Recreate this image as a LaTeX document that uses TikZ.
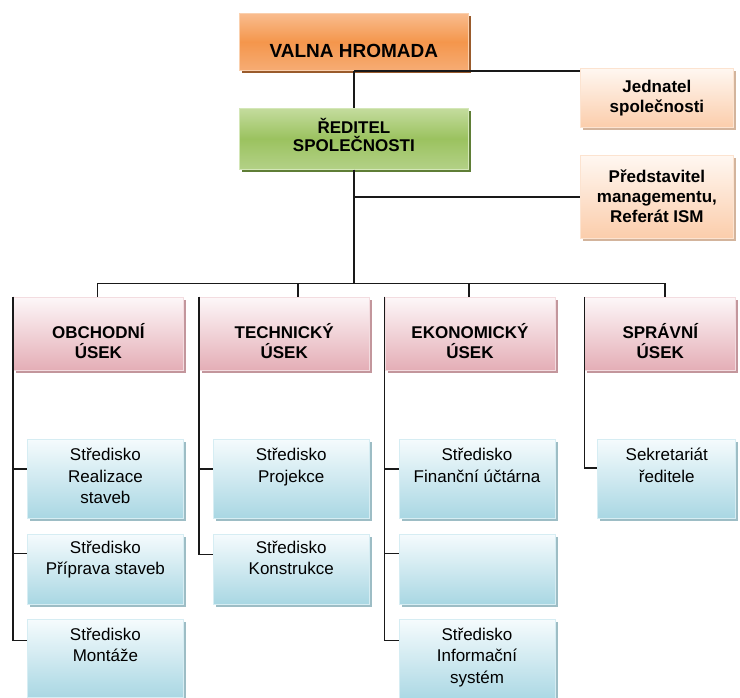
\documentclass[tikz,border=0pt]{standalone}
\usepackage{fontspec}
\setmainfont{Liberation Sans}
\usetikzlibrary{positioning, shadows}

\definecolor{orangeTop}{HTML}{F9BC8E}
\definecolor{orangeMid}{HTML}{F4964C}
\definecolor{orangeBot}{HTML}{F6AC74}
\definecolor{orangeLine}{HTML}{FAD0AE}
\definecolor{orangeShadow}{HTML}{9A5B2C}
\definecolor{greenTop}{HTML}{C4DC9E}
\definecolor{greenMid}{HTML}{9BC25F}
\definecolor{greenBot}{HTML}{B3D187}
\definecolor{greenLine}{HTML}{D4E7B8}
\definecolor{greenShadow}{HTML}{5F7E36}
\definecolor{peachTop}{HTML}{FFF7F1}
\definecolor{peachBot}{HTML}{FBCDAB}
\definecolor{peachLine}{HTML}{FCE3D0}
\definecolor{peachShadow}{HTML}{D3B49C}
\definecolor{pinkTop}{HTML}{FDF7F8}
\definecolor{pinkBot}{HTML}{E4AEB6}
\definecolor{pinkLine}{HTML}{F3DCE0}
\definecolor{pinkShadow}{HTML}{C3969C}
\definecolor{blueTop}{HTML}{F5FBFD}
\definecolor{blueBot}{HTML}{A9D7E3}
\definecolor{blueLine}{HTML}{D6EDF3}
\definecolor{blueShadow}{HTML}{9DBDC5}

\tikzstyle{Line} = [line width=1.5pt, black!90]

% text block: height, width, top gap, text
\newcommand{\intext}[4]{\parbox[c][#1pt][t]{#2pt}{\centering\vspace*{#3pt}#4}}

\begin{document}
\begin{tikzpicture}[x=1pt, y=-1pt,
box/.style={
    inner sep=0pt,
    line width=0.8pt
    },
topbox/.style={
    box,
    draw=orangeLine,
    top color=orangeTop, bottom color=orangeBot, middle color=orangeMid,
    drop shadow={shadow xshift=2.5pt, shadow yshift=-2.5pt, fill=orangeShadow, opacity=1},
    font=\bfseries\fontsize{19}{20}\selectfont
    },
headbox/.style={
    box,
    draw=greenLine,
    top color=greenTop, bottom color=greenBot, middle color=greenMid,
    drop shadow={shadow xshift=2.5pt, shadow yshift=-2.5pt, fill=greenShadow, opacity=1},
    font=\bfseries\fontsize{17}{18.5}\selectfont
    },
staffbox/.style={
    box,
    draw=peachLine,
    top color=peachTop, bottom color=peachBot,
    drop shadow={shadow xshift=2.5pt, shadow yshift=-2.5pt, fill=peachShadow, opacity=1},
    font=\bfseries\fontsize{17}{20}\selectfont
    },
unitbox/.style={
    box,
    draw=pinkLine,
    top color=pinkTop, bottom color=pinkBot,
    drop shadow={shadow xshift=2.5pt, shadow yshift=-2.5pt, fill=pinkShadow, opacity=1},
    font=\bfseries\fontsize{17}{20}\selectfont
    },
centrebox/.style={
    box,
    draw=blueLine,
    top color=blueTop, bottom color=blueBot,
    drop shadow={shadow xshift=2.5pt, shadow yshift=-2.5pt, fill=blueShadow, opacity=1},
    font=\fontsize{17}{21.5}\selectfont
    }
]
\useasboundingbox (0,0) rectangle (740,698);

% top of the company
\node [topbox, anchor=north west] (vh) at (239,13) {\intext{57}{229}{31}{VALNA HROMADA}};
\node [headbox, below=37pt of vh] (red) {\intext{61}{229}{10}{ŘEDITEL\\SPOLEČNOSTI}};
\node [staffbox, anchor=north west] (jed) at (580,68) {\intext{59}{153}{11.5}{Jednatel\\společnosti}};
\node [staffbox, anchor=north west] (pred) at (580,155) {\intext{83}{153}{14.5}{Představitel\\managementu,\\Referát ISM}};

% units
\node [unitbox, anchor=north west] (u1) at (13,297) {\intext{73}{170}{26}{OBCHODNÍ\\ÚSEK}};
\node [unitbox, right=15pt of u1] (u2) {\intext{73}{170}{26}{TECHNICKÝ\\ÚSEK}};
\node [unitbox, right=15pt of u2] (u3) {\intext{73}{170}{26}{EKONOMICKÝ\\ÚSEK}};
\node [unitbox, right=29pt of u3] (u4) {\intext{73}{151}{26}{SPRÁVNÍ\\ÚSEK}};

% centres
\node [centrebox, below right=68pt and 14pt of u1.south west] (c11) {\intext{79}{156}{9}{Středisko\\Realizace\\staveb}};
\node [centrebox, below=15pt of c11] (c12) {\intext{70}{156}{7}{Středisko\\Příprava staveb}};
\node [centrebox, below=15pt of c12] (c13) {\intext{78}{156}{8}{Středisko\\Montáže}};

\node [centrebox, below right=68pt and 14pt of u2.south west] (c21) {\intext{79}{156}{9}{Středisko\\Projekce}};
\node [centrebox, below=15pt of c21] (c22) {\intext{70}{156}{7}{Středisko\\Konstrukce}};

\node [centrebox, below right=68pt and 14pt of u3.south west] (c31) {\intext{79}{156}{9}{Středisko\\Finanční účtárna}};
\node [centrebox, below=15pt of c31] (c32) {\intext{70}{156}{7}{\mbox{}}};
\node [centrebox, below=15pt of c32] (c33) {\intext{82}{156}{8}{Středisko\\Informační\\systém}};

\node [centrebox, below right=68pt and 13pt of u4.south west] (c41) {\intext{79}{138}{9}{Sekretariát\\ředitele}};

\coordinate (bus) at ([yshift=-114pt]red.south);

\draw[Line] (vh.south) -- (red.north);
\draw[Line] (vh.south) -- (vh.south -| jed.west);
\draw[Line] (red.south) |- (pred.west);
\draw[Line] (red.south) -- (bus);

\draw[Line] ([xshift=-1pt]u1.north) |- (bus) -| ([xshift=4.5pt]u4.north);
\draw[Line] ([xshift=14pt]u2.north) -- ([xshift=14pt]u2.north |- bus);
\draw[Line] ([xshift=-1pt]u3.north) -- ([xshift=-1pt]u3.north |- bus);

\draw[Line] (u1.north west) |- ([yshift=-30pt]c11.north west);
\draw[Line] (u1.north west) |- ([yshift=-20pt]c12.north west);
\draw[Line] (u1.north west) |- ([yshift=-21pt]c13.north west);

\draw[Line] (u2.north west) |- ([yshift=-30pt]c21.north west);
\draw[Line] (u2.north west) |- ([yshift=-21pt]c22.north west);

\draw[Line] (u3.north west) |- ([yshift=-30pt]c31.north west);
\draw[Line] (u3.north west) |- ([yshift=-20pt]c32.north west);
\draw[Line] (u3.north west) |- ([yshift=-21pt]c33.north west);

\draw[Line] (u4.north west) |- ([yshift=-29pt]c41.north west);

\end{tikzpicture}
\end{document}
